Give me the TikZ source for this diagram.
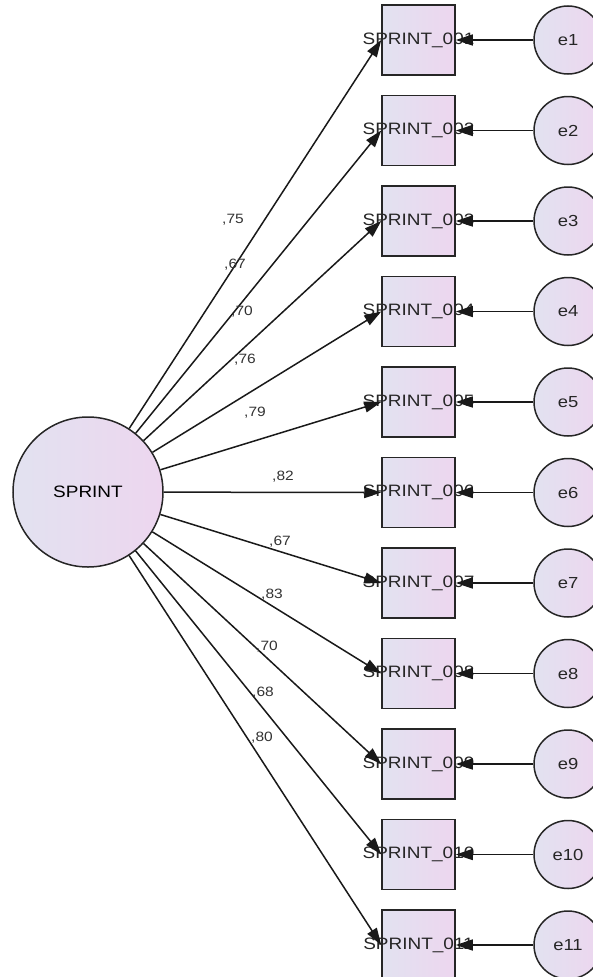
\documentclass[tikz,border=0pt]{standalone}
\usepackage{fontspec}
\setmainfont{Liberation Sans}[FakeStretch=1.15]
\usetikzlibrary{arrows.meta,shadings}
\definecolor{fillL}{HTML}{E2E2F0}
\definecolor{fillR}{HTML}{EDD6EF}
\definecolor{labcol}{HTML}{333333}
\begin{document}
\begin{tikzpicture}[x=1pt,y=-1pt,
  edge/.style={draw=black!85,line width=1.5pt},
  latent/.style={circle,edge,left color=fillL,right color=fillR,inner sep=0pt},
  obsbox/.style={rectangle,edge,left color=fillL,right color=fillR,minimum width=73pt,minimum height=70pt,inner sep=0pt},
  boxtext/.style={font=\fontsize{16.5}{18}\selectfont,text=black!85,inner sep=0pt},
  errtext/.style={font=\fontsize{16}{18}\selectfont,text=black!85},
  loadlab/.style={font=\fontsize{13.5}{15}\selectfont,text=labcol,inner sep=0pt},
  conn/.style={black!90,line width=1.5pt,-{Triangle[length=17pt,width=11pt]}}]
\useasboundingbox (0,0) rectangle (593,977);
\node[latent,minimum size=150pt,font=\fontsize{16.5}{18}\selectfont] (S) at (88,492) {SPRINT};
\foreach \i/\num/\lab/\lx/\ly in {1/001/{,75}/233/220, 2/002/{,67}/235/265, 3/003/{,70}/242/312, 4/004/{,76}/245/360, 5/005/{,79}/255/413, 6/006/{,82}/283/477, 7/007/{,67}/280/542, 8/008/{,83}/272/595, 9/009/{,70}/267/647, 10/010/{,68}/263/693, 11/011/{,80}/262/738}{
  \pgfmathsetmacro{\yy}{40+90.5*(\i-1)}
  \node[obsbox] (b\i) at (418.5,\yy) {};
  \node[boxtext] (t\i) at (b\i.center) {SPRINT\_\num};
  \node[latent,minimum size=68pt,errtext] (e\i) at (568,\yy) {e\i};
  \draw[conn] (e\i) -- (b\i.east);
  \draw[conn] (S) -- (b\i.west);
  \node[loadlab] (l\i) at (\lx,\ly) {\lab};
}
\end{tikzpicture}
\end{document}
